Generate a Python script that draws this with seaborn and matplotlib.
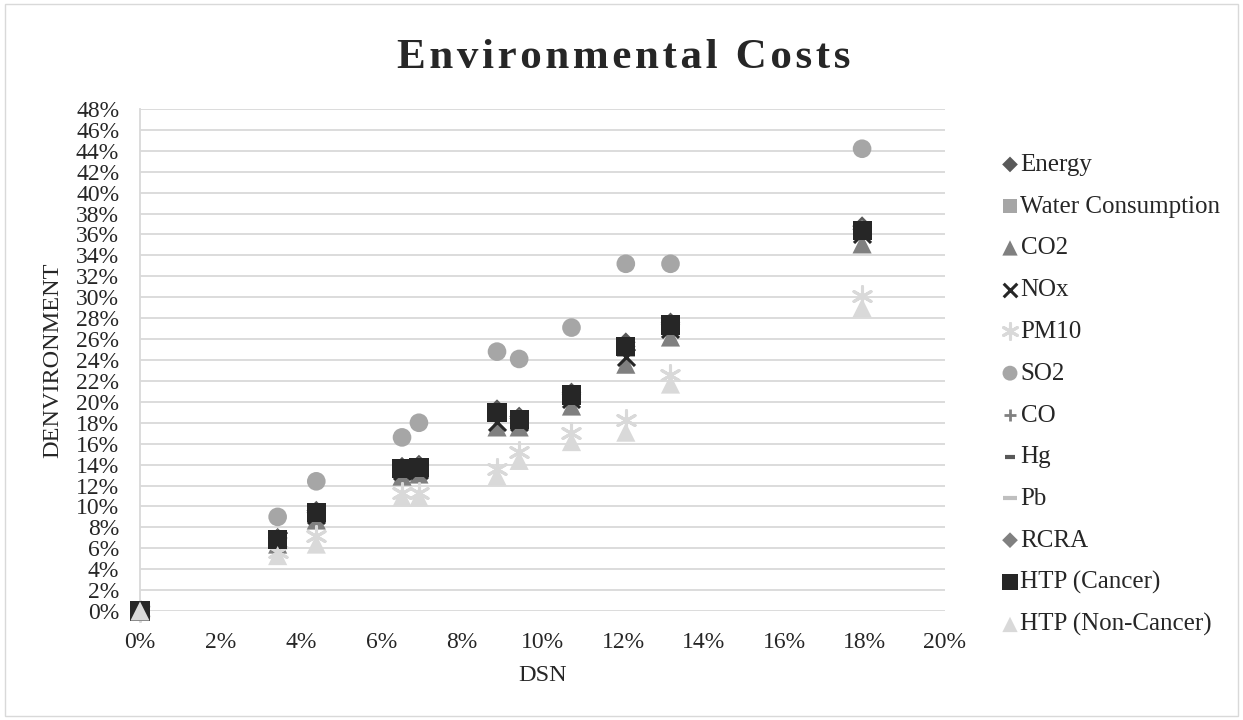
import matplotlib
matplotlib.use("Agg")
import matplotlib.pyplot as plt
import matplotlib.ticker as mtick
from matplotlib.patches import Rectangle
import seaborn as sns

# x values (DSN) shared by all series, as fractions
dsn = [0, 0.0342, 0.0438, 0.0651, 0.0693, 0.0887, 0.0942, 0.1072, 0.1207, 0.1318, 0.1794]

# y values (DENVIRONMENT) per series, in percent
energy = [0, 7.0, 9.6, 13.8, 14.0, 19.3, 18.6, 20.9, 25.7, 27.6, 36.8]
water = [0, 6.9, 9.4, 13.6, 13.7, 18.9, 18.3, 20.6, 25.2, 27.3, 36.3]
co2 = [0, 6.4, 8.7, 12.9, 13.1, 17.6, 17.6, 19.6, 23.6, 26.2, 35.1]
nox = [0, 6.8, 9.2, 13.4, 13.5, 18.1, 18.1, 20.3, 24.3, 27.0, 36.0]
pm10 = [0, 5.6, 7.2, 11.3, 11.3, 13.6, 15.2, 17.0, 18.3, 22.6, 30.1]
so2 = [0, 9.0, 12.4, 16.6, 18.0, 24.8, 24.1, 27.1, 33.2, 33.2, 44.2]
co = [0, 6.9, 9.4, 13.6, 13.7, 18.8, 18.3, 20.6, 25.2, 27.3, 36.3]
hg = [0, 6.9, 9.4, 13.6, 13.7, 18.9, 18.3, 20.6, 25.2, 27.3, 36.3]
pb = [0, 6.9, 9.4, 13.6, 13.7, 18.9, 18.3, 20.6, 25.2, 27.3, 36.3]
rcra = [0, 6.9, 9.4, 13.6, 13.8, 19.0, 18.4, 20.7, 25.3, 27.4, 36.5]
htp_cancer = [0, 6.85, 9.4, 13.6, 13.7, 18.95, 18.35, 20.65, 25.3, 27.35, 36.4]
htp_noncancer = [0, 5.3, 6.4, 10.9, 10.9, 12.9, 14.4, 16.2, 17.1, 21.7, 29.0]

labels = ["Energy", "Water Consumption", "CO2", "NOx", "PM10", "SO2", "CO",
          "Hg", "Pb", "RCRA", "HTP (Cancer)", "HTP (Non-Cancer)"]
values = [energy, water, co2, nox, pm10, so2, co, hg, pb, rcra, htp_cancer, htp_noncancer]

# marker, colour, size, line width (for unfilled markers)
styles = [
    ("D", "#595959", 100, 0),
    ("s", "#A6A6A6", 170, 0),
    ("^", "#808080", 190, 0),
    ("x", "#262626", 150, 2.2),
    ((6, 2, 0), "#D9D9D9", 200, 2.2),
    ("o", "#A6A6A6", 180, 0),
    ("+", "#808080", 110, 2.0),
    ("_", "#595959", 80, 3.0),
    ("_", "#BFBFBF", 170, 3.0),
    ("D", "#808080", 100, 0),
    ("s", "#262626", 190, 0),
    ("^", "#D9D9D9", 190, 0),
]

sns.set_style("white")
plt.rcParams["font.family"] = ["Liberation Serif", "DejaVu Serif"]

fig = plt.figure(figsize=(12.43, 7.2), dpi=100)
ax = fig.add_axes([140 / 1243, 1 - 611 / 720, 805 / 1243, 502 / 720])

for lab, vals, (mk, col, sz, lw) in zip(labels, values, styles):
    yv = [v / 100 for v in vals]
    kw = dict(marker=mk, color=col, s=sz, ax=ax, label=lab, clip_on=False, zorder=3)
    if lw > 0:
        kw["linewidth"] = lw
    else:
        kw["edgecolor"] = "none"
    sns.scatterplot(x=dsn, y=yv, **kw)

ax.set_xlim(0, 0.20)
ax.set_ylim(0, 0.48)
ax.set_xticks([i * 0.02 for i in range(11)])
ax.set_yticks([i * 0.02 for i in range(25)])
ax.xaxis.set_major_formatter(mtick.PercentFormatter(1.0, decimals=0))
ax.yaxis.set_major_formatter(mtick.PercentFormatter(1.0, decimals=0))
ax.tick_params(axis="both", labelsize=17, length=0)
ax.tick_params(axis="x", pad=15)
ax.tick_params(axis="y", pad=15)
ax.grid(axis="y", color="#D9D9D9", linewidth=1.3)
ax.set_axisbelow(True)
for side in ["top", "right", "bottom"]:
    ax.spines[side].set_visible(False)
ax.spines["left"].set_color("#D9D9D9")
ax.spines["left"].set_linewidth(1.3)

ax.set_xlabel("DSN", fontsize=17.5, labelpad=9)
ax.set_ylabel("DENVIRONMENT", fontsize=17.5, labelpad=9)

title = "\u200a".join("Environmental Costs")
fig.text(0.502, 0.92, title, ha="center", va="center", fontsize=31, fontweight="bold")

# legend on the right, markers a bit smaller than in the plot
ax.legend(loc="upper left", bbox_to_anchor=(990 / 1243, 1 - 141 / 720),
          bbox_transform=fig.transFigure, frameon=False, fontsize=18,
          markerscale=0.8, handlelength=0.6, handletextpad=0.12,
          labelspacing=0.77, borderpad=0)

fig.patches.append(Rectangle((0.004, 0.006), 0.992, 0.988, transform=fig.transFigure,
                             fill=False, edgecolor="#D9D9D9", linewidth=1))

fig.savefig("out.png", dpi=100)
